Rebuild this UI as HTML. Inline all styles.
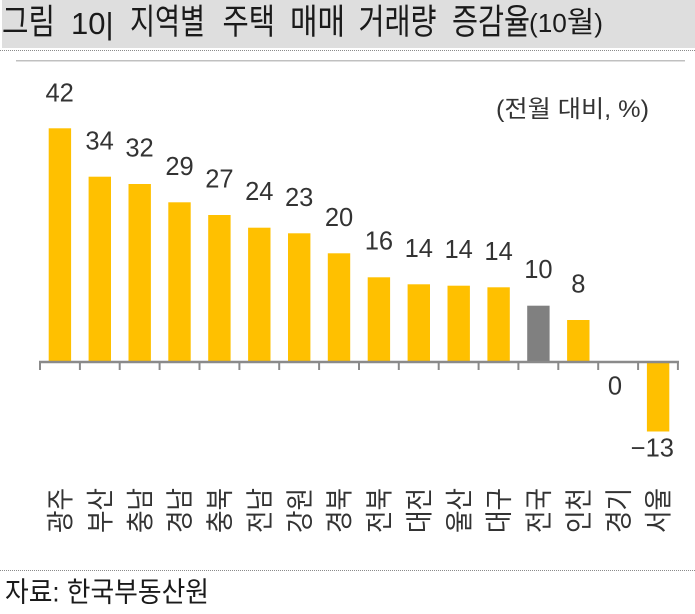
<!DOCTYPE html>
<html>
<head>
<meta charset="utf-8">
<style>
html,body{margin:0;padding:0;background:#fff;}
svg{display:block;}
text{font-family:"Liberation Sans","Noto Sans CJK KR",sans-serif;}
</style>
</head>
<body>
<svg width="695" height="614" viewBox="0 0 695 614" xmlns="http://www.w3.org/2000/svg">
  <rect x="0" y="0" width="695" height="614" fill="#ffffff"/>
  <!-- title band -->
  <rect x="2" y="0" width="693" height="48" fill="#dedede"/>
  <line x1="0" y1="50.5" x2="695" y2="50.5" stroke="#8a8a8a" stroke-width="1" stroke-dasharray="1,1"/>
  <g fill="#1a1a1a" font-size="35">
    <text x="2" y="34" textLength="53" lengthAdjust="spacingAndGlyphs">그림</text>
    <text x="71" y="34" font-size="31">10|</text>
    <text x="130" y="34" textLength="75" lengthAdjust="spacingAndGlyphs">지역별</text>
    <text x="222.5" y="34" textLength="52.5" lengthAdjust="spacingAndGlyphs">주택</text>
    <text x="290" y="34" textLength="55" lengthAdjust="spacingAndGlyphs">매매</text>
    <text x="358.5" y="34" textLength="78" lengthAdjust="spacingAndGlyphs">거래량</text>
    <text x="452" y="34" textLength="78" lengthAdjust="spacingAndGlyphs">증감율</text>
    <text x="529" y="32" font-size="25.5" textLength="74" lengthAdjust="spacingAndGlyphs">(10<tspan font-size="29">월</tspan>)</text>
  </g>
  <line x1="16" y1="60.7" x2="685" y2="60.7" stroke="#c0c0c0" stroke-width="1.5"/>

  <!-- unit -->
  <text x="496" y="117" font-size="24" fill="#333" textLength="153" lengthAdjust="spacingAndGlyphs">(전월 대비, %)</text>

  <!-- bars -->
  <g fill="#FFC000">
    <rect x="48.7" y="128.3" width="22.4" height="233"/>
    <rect x="88.6" y="176.7" width="22.4" height="184.6"/>
    <rect x="128.5" y="184" width="22.4" height="177.3"/>
    <rect x="168.3" y="202.3" width="22.4" height="159"/>
    <rect x="208.2" y="215" width="22.4" height="146.3"/>
    <rect x="248.1" y="227.7" width="22.4" height="133.6"/>
    <rect x="288" y="233.3" width="22.4" height="128"/>
    <rect x="327.8" y="253.3" width="22.4" height="108"/>
    <rect x="367.7" y="277.3" width="22.4" height="84"/>
    <rect x="407.6" y="284.3" width="22.4" height="77"/>
    <rect x="447.5" y="285.7" width="22.4" height="75.6"/>
    <rect x="487.4" y="287.3" width="22.4" height="74"/>
    <rect x="567.1" y="320" width="22.4" height="41.3"/>
    <rect x="646.9" y="362" width="22.4" height="69.5"/>
  </g>
  <rect x="527.2" y="305.7" width="22.4" height="55.6" fill="#808080"/>

  <!-- axis -->
  <line x1="39" y1="362" x2="679" y2="362" stroke="#8a8a8a" stroke-width="2.5"/>
  <g stroke="#8a8a8a" stroke-width="2">
    <line x1="40" y1="361" x2="40" y2="370"/>
    <line x1="79.9" y1="361" x2="79.9" y2="370"/>
    <line x1="119.7" y1="361" x2="119.7" y2="370"/>
    <line x1="159.6" y1="361" x2="159.6" y2="370"/>
    <line x1="199.5" y1="361" x2="199.5" y2="370"/>
    <line x1="239.4" y1="361" x2="239.4" y2="370"/>
    <line x1="279.2" y1="361" x2="279.2" y2="370"/>
    <line x1="319.1" y1="361" x2="319.1" y2="370"/>
    <line x1="359" y1="361" x2="359" y2="370"/>
    <line x1="398.8" y1="361" x2="398.8" y2="370"/>
    <line x1="438.7" y1="361" x2="438.7" y2="370"/>
    <line x1="478.6" y1="361" x2="478.6" y2="370"/>
    <line x1="518.4" y1="361" x2="518.4" y2="370"/>
    <line x1="558.3" y1="361" x2="558.3" y2="370"/>
    <line x1="598.2" y1="361" x2="598.2" y2="370"/>
    <line x1="638.1" y1="361" x2="638.1" y2="370"/>
    <line x1="677.9" y1="361" x2="677.9" y2="370"/>
  </g>

  <!-- value labels -->
  <g fill="#333" font-size="25.5" text-anchor="middle">
    <text x="59.7" y="101.5">42</text>
    <text x="99.6" y="149.5">34</text>
    <text x="139.5" y="156.5">32</text>
    <text x="179.5" y="174.8">29</text>
    <text x="219.4" y="187.5">27</text>
    <text x="259.3" y="200.2">24</text>
    <text x="299.2" y="205.8">23</text>
    <text x="339" y="225.8">20</text>
    <text x="378.9" y="249.6">16</text>
    <text x="418.8" y="256.8">14</text>
    <text x="458.7" y="258.2">14</text>
    <text x="498.6" y="259.8">14</text>
    <text x="538.4" y="277.8">10</text>
    <text x="578.3" y="292.5">8</text>
    <text x="615" y="394.3">0</text>
    <text x="674" y="456.7" text-anchor="end">−13</text>
  </g>

  <!-- category labels (rotated) -->
  <g fill="#333" font-size="28">
    <text transform="translate(70,533) rotate(-90)" textLength="45" lengthAdjust="spacingAndGlyphs">광주</text>
    <text transform="translate(109.9,533) rotate(-90)" textLength="45" lengthAdjust="spacingAndGlyphs">부산</text>
    <text transform="translate(149.8,533) rotate(-90)" textLength="45" lengthAdjust="spacingAndGlyphs">충남</text>
    <text transform="translate(189.6,533) rotate(-90)" textLength="45" lengthAdjust="spacingAndGlyphs">경남</text>
    <text transform="translate(229.5,533) rotate(-90)" textLength="45" lengthAdjust="spacingAndGlyphs">충북</text>
    <text transform="translate(269.4,533) rotate(-90)" textLength="45" lengthAdjust="spacingAndGlyphs">전남</text>
    <text transform="translate(309.3,533) rotate(-90)" textLength="45" lengthAdjust="spacingAndGlyphs">강원</text>
    <text transform="translate(349.1,533) rotate(-90)" textLength="45" lengthAdjust="spacingAndGlyphs">경북</text>
    <text transform="translate(389,533) rotate(-90)" textLength="45" lengthAdjust="spacingAndGlyphs">전북</text>
    <text transform="translate(428.9,533) rotate(-90)" textLength="45" lengthAdjust="spacingAndGlyphs">대전</text>
    <text transform="translate(468.8,533) rotate(-90)" textLength="45" lengthAdjust="spacingAndGlyphs">울산</text>
    <text transform="translate(508.7,533) rotate(-90)" textLength="45" lengthAdjust="spacingAndGlyphs">대구</text>
    <text transform="translate(548.5,533) rotate(-90)" textLength="45" lengthAdjust="spacingAndGlyphs">전국</text>
    <text transform="translate(588.4,533) rotate(-90)" textLength="45" lengthAdjust="spacingAndGlyphs">인천</text>
    <text transform="translate(628.3,533) rotate(-90)" textLength="45" lengthAdjust="spacingAndGlyphs">경기</text>
    <text transform="translate(668.2,533) rotate(-90)" textLength="45" lengthAdjust="spacingAndGlyphs">서울</text>
  </g>

  <!-- footer -->
  <line x1="0" y1="570.5" x2="695" y2="570.5" stroke="#8a8a8a" stroke-width="1" stroke-dasharray="1,1"/>
  <text x="5" y="601.5" font-size="28" fill="#1a1a1a" textLength="204" lengthAdjust="spacingAndGlyphs">자료: 한국부동산원</text>
</svg>
</body>
</html>
